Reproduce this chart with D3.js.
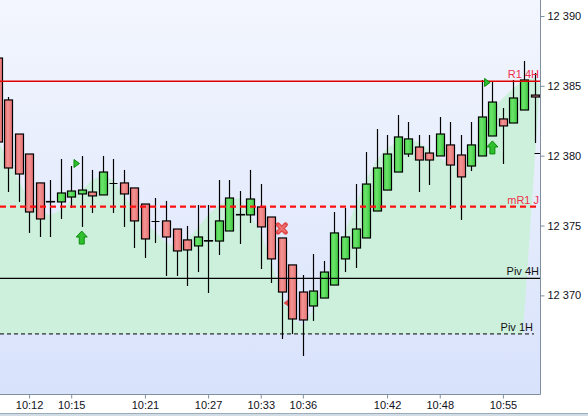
<!DOCTYPE html>
<html><head><meta charset="utf-8">
<script src="https://cdn.jsdelivr.net/npm/d3@7"></script>
<style>html,body{margin:0;padding:0;background:#fff;overflow:hidden}svg{display:block}</style>
</head><body><svg id="c" width="588" height="416"></svg>
<script>
// ---------- DATA ----------
const timeTickIndex  = [3, 7, 14, 20, 25, 29, 37, 42, 48];
const timeTickLabels = ["10:12","10:15","10:21","10:27","10:33","10:36","10:42","10:48","10:55"];
const priceTicks = [12370, 12375, 12380, 12385, 12390];

const opens  = [12386.99,12383.99,12381.55,12380.12,12378.05,12376.72,12376.69,12377.04,12377.26,12377.40,
                12377.19,12378.05,12378.05,12377.69,12376.54,12375.33,12375.33,12374.75,12373.97,12373.54,
                12373.92,12373.89,12374.61,12375.79,12375.76,12376.33,12375.61,12374.11,12372.18,12370.24,
                12369.24,12369.81,12370.74,12372.61,12373.39,12374.11,12376.04,12377.54,12378.83,12380.12,
                12380.62,12380.19,12379.98,12380.77,12380.05,12379.26,12379.98,12381.41,12382.63,12382.34,
                12383.27,12384.34];
const highs  = [12387.20,12384.20,12381.55,12380.12,12378.05,12378.26,12379.76,12379.26,12379.98,12378.98,
                12379.98,12379.76,12378.98,12377.69,12376.54,12376.97,12376.76,12374.75,12374.97,12376.47,
                12376.47,12378.26,12378.26,12377.47,12378.98,12377.97,12375.61,12374.11,12372.18,12371.46,
                12372.96,12372.46,12375.97,12376.26,12377.97,12380.26,12381.91,12381.48,12382.91,12382.41,
                12381.48,12381.48,12382.77,12382.41,12381.48,12382.41,12385.42,12385.28,12383.41,12385.42,
                12386.78,12385.92];
const lows   = [12379.50,12377.40,12376.69,12374.47,12374.18,12374.18,12375.47,12376.26,12374.90,12375.90,
                12377.19,12375.90,12374.90,12373.39,12372.68,12373.75,12371.39,12371.39,12370.67,12371.67,
                12370.17,12372.89,12374.61,12373.68,12375.18,12371.89,12370.89,12366.88,12367.24,12365.66,
                12368.17,12369.81,12370.74,12371.67,12371.96,12374.11,12376.04,12377.54,12378.83,12379.91,
                12377.40,12377.90,12379.98,12376.18,12375.40,12378.90,12379.98,12381.41,12379.41,12382.34,
                12383.27,12380.91];
const closes = [12380.98,12379.12,12378.69,12375.97,12375.47,12376.69,12377.33,12377.47,12377.54,12377.12,
                12378.83,12378.05,12377.26,12375.33,12374.04,12375.33,12374.18,12373.18,12373.25,12374.18,
                12373.89,12375.33,12376.97,12375.76,12376.90,12374.90,12372.61,12370.24,12368.31,12368.24,
                12370.31,12371.67,12374.47,12374.18,12374.75,12377.97,12379.12,12380.12,12381.34,12381.20,
                12379.69,12379.69,12381.55,12379.33,12378.48,12380.77,12382.77,12383.84,12382.13,12384.13,
                12385.42,12384.20];

// green cloud upper bound per candle
const cloudTop = [12381.12,12379.69,12378.26,12376.83,12375.97,12375.76,12376.11,12376.83,12377.54,12378.26,
                  12378.62,12378.26,12377.19,12376.11,12375.25,12374.54,12373.75,12373.46,12373.97,12374.82,
                  12375.76,12376.47,12376.83,12376.97,12375.76,12374.54,12372.39,12370.03,12368.38,12367.88,
                  12368.95,12370.74,12372.89,12374.54,12376.47,12378.26,12379.69,12380.55,12380.98,12381.12,
                  12380.98,12380.40,12379.84,12379.33,12379.12,12379.69,12381.84,12383.27,12384.13,12384.85,
                  12385.42,12385.56];
const cloudEdgeIndex = [51.52, 49.9];
const cloudEdgePrice = [12385.06, 12367.24];

const levelNames  = ["R1 4H", "mR1 J", "Piv 4H", "Piv 1H"];
const levelValues = [12385.33, 12376.35, 12371.22, 12367.24];

const signalIndex = [7.5, 8, 27, 27.5, 46.5, 47];
const signalPrice = [12379.44, 12374.14, 12374.79, 12369.46, 12385.24, 12380.59];
const signalType  = ["buyTri", "buyArrow", "sellX", "sellTri", "buyTri", "buyArrow"];

const lastPrice = 12380.19;

// ---------- LAYOUT ----------
const svg = d3.select("#c");
const plotR = 540, plotB = 394;
const n = opens.length;
const x = d3.scaleLinear().domain([0, n - 1]).range([-2.5, 534.5]);
const step = x(1) - x(0);
const bw = step * 0.78;
const y = d3.scaleLinear().domain([12362.94, 12391.145]).range([plotB, 0]);
const FONT = "'Liberation Sans', Arial, sans-serif";
const px = v => Math.round(v) + 0.5;

const defs = svg.append("defs");
const bg = defs.append("linearGradient").attr("id","bg").attr("x1",0).attr("y1",0).attr("x2",0).attr("y2",1);
bg.append("stop").attr("offset","0%").attr("stop-color","#f3f6fe");
bg.append("stop").attr("offset","100%").attr("stop-color","#d8e2fb");
const rg = defs.append("linearGradient").attr("id","rg").attr("x1",0).attr("y1",0).attr("x2",1).attr("y2",0);
rg.append("stop").attr("offset","0%").attr("stop-color","#e46666");
rg.append("stop").attr("offset","40%").attr("stop-color","#f39494");
rg.append("stop").attr("offset","100%").attr("stop-color","#e87272");
const gg = defs.append("linearGradient").attr("id","gg").attr("x1",0).attr("y1",0).attr("x2",1).attr("y2",0);
gg.append("stop").attr("offset","0%").attr("stop-color","#4ed44e");
gg.append("stop").attr("offset","40%").attr("stop-color","#6ae46a");
gg.append("stop").attr("offset","100%").attr("stop-color","#3dc83d");
defs.append("clipPath").attr("id","clip").append("rect").attr("x",0).attr("y",0).attr("width",plotR).attr("height",plotB);

svg.append("rect").attr("x",0).attr("y",0).attr("width",plotR).attr("height",plotB).attr("fill","url(#bg)");

const plot = svg.append("g").attr("clip-path","url(#clip)");

// cloud
const cloudPts = cloudTop.map((v,i)=>[i, v]);
cloudPts.unshift([-1, cloudTop[0] + 0.6]);
cloudPts.push([cloudEdgeIndex[0], cloudEdgePrice[0]]);
cloudPts.push([cloudEdgeIndex[1], cloudEdgePrice[1]]);
cloudPts.push([-1, levelValues[3]]);
plot.append("path")
  .attr("d", d3.line().x(d=>x(d[0])).y(d=>y(d[1]))(cloudPts) + "Z")
  .attr("fill", "#cdf0dd");

function signalPath(t){
  if (t==="buyTri") return "M-2.5,-4L3,0L-2.5,4Z";
  if (t==="sellTri") return "M3,-4.5L-3,0L3,4.5Z";
  if (t==="buyArrow") return "M0,-6.5L5.5,-0.5L2.5,-0.5L2.5,6.5L-2.5,6.5L-2.5,-0.5L-5.5,-0.5Z";
  return "";
}
const sig = signalIndex.map((d,i)=>({i:d, p:signalPrice[i], t:signalType[i]}));

plot.selectAll(".sigB").data(sig.filter(s=>s.t==="sellTri")).join("path")
  .attr("transform", s=>`translate(${x(s.i)},${y(s.p)})`)
  .attr("d", s=>signalPath(s.t))
  .attr("fill","#e04848").attr("stroke","#d03030").attr("stroke-width",0.6);

// candles
const candles = d3.range(n).map(i=>({i, o:opens[i], h:highs[i], l:lows[i], c:closes[i]}));
plot.selectAll(".wick").data(candles).join("line")
  .attr("x1", d=>px(x(d.i))).attr("x2", d=>px(x(d.i)))
  .attr("y1", d=>y(d.h)).attr("y2", d=>y(d.l))
  .attr("stroke","#000").attr("stroke-width",1.2);
plot.selectAll(".body").data(candles.filter(d=>d.o!==d.c)).join("rect")
  .attr("x", d=>px(x(d.i)) - Math.round(bw/2)).attr("width", Math.round(bw))
  .attr("y", d=>y(Math.max(d.o,d.c)))
  .attr("height", d=>Math.abs(y(d.o)-y(d.c)))
  .attr("fill", d=>d.c<d.o ? "url(#rg)" : "url(#gg)")
  .attr("stroke","#000").attr("stroke-width",1.2);
plot.selectAll(".doji").data(candles.filter(d=>d.o===d.c)).join("line")
  .attr("x1", d=>px(x(d.i))-Math.round(bw/2)).attr("x2", d=>px(x(d.i))+Math.round(bw/2))
  .attr("y1", d=>px(y(d.o))).attr("y2", d=>px(y(d.o)))
  .attr("stroke","#000").attr("stroke-width",1);

// levels
const levelStroke = ["#e00000","#ff1010","#000","#000"];
const levelWidth  = [1.3, 2.4, 1.1, 1];
const levelDash   = [null, "6,4", null, "4,3"];
const levelEnd    = [540, 540, 540, 534];
const levelText   = ["#f0304a","#f0304a","#111","#111"];
levelValues.forEach((v,k)=>{
  plot.append("line").attr("x1",0).attr("x2",levelEnd[k])
    .attr("y1",y(v)).attr("y2",y(v))
    .attr("stroke",levelStroke[k]).attr("stroke-width",levelWidth[k])
    .attr("stroke-dasharray",levelDash[k]);
});

// last price marker
plot.append("line").attr("x1",x(n-1)).attr("x2",plotR).attr("y1",px(y(lastPrice))).attr("y2",px(y(lastPrice)))
  .attr("stroke","#000").attr("stroke-width",1);

// signals on top
plot.selectAll(".sigT").data(sig.filter(s=>s.t!=="sellTri" && s.t!=="sellX")).join("path")
  .attr("transform", s=>`translate(${x(s.i)},${y(s.p)})`)
  .attr("d", s=>signalPath(s.t))
  .attr("fill","#2fbf2f").attr("stroke","#0b8a0b").attr("stroke-width",1);
sig.filter(s=>s.t==="sellX").forEach(s=>{
  const g = plot.append("g").attr("transform",`translate(${x(s.i)},${y(s.p)})`);
  g.append("path").attr("d","M-3.8,-3.8L3.8,3.8M-3.8,3.8L3.8,-3.8")
    .attr("stroke","#e04848").attr("stroke-width",4.6).attr("stroke-linecap","round");
  g.append("path").attr("d","M-3.2,-3.2L3.2,3.2M-3.2,3.2L3.2,-3.2")
    .attr("stroke","#ee7070").attr("stroke-width",2).attr("stroke-linecap","round");
});

// level labels
levelValues.forEach((v,k)=>{
  svg.append("text").attr("x",levelEnd[k]-1).attr("y",y(v)-3)
    .attr("text-anchor","end").attr("font-family",FONT).attr("font-size",11)
    .attr("fill",levelText[k]).text(levelNames[k]);
});

// borders
svg.append("line").attr("x1",plotR+0.5).attr("x2",plotR+0.5).attr("y1",0).attr("y2",plotB+0.5)
  .attr("stroke","#7f8fa0").attr("stroke-width",1);
svg.append("line").attr("x1",0).attr("x2",plotR+0.5).attr("y1",plotB+0.5).attr("y2",plotB+0.5)
  .attr("stroke","#7f8fa0").attr("stroke-width",1);

// axes
const loc = d3.formatLocale({decimal:",", thousands:" ", grouping:[3], currency:["",""]});
const fmt = loc.format(",d");
const yAxis = svg.append("g").attr("transform",`translate(${plotR+0.5},0)`)
  .call(d3.axisRight(y).tickValues(priceTicks).tickFormat(fmt).tickSize(4).tickPadding(3));
yAxis.select(".domain").remove();
yAxis.selectAll("line").attr("stroke","#7f8fa0");
yAxis.selectAll("text").attr("font-family",FONT).attr("font-size",11).attr("fill","#101020");

const xAxis = svg.append("g").attr("transform",`translate(0,${plotB+0.5})`)
  .call(d3.axisBottom(x).tickValues(timeTickIndex).tickFormat((d,i)=>timeTickLabels[i]).tickSize(4).tickPadding(3));
xAxis.select(".domain").remove();
xAxis.selectAll("line").attr("stroke","#7f8fa0");
xAxis.selectAll("text").attr("font-family",FONT).attr("font-size",11).attr("fill","#101020");

// bottom frame
svg.append("rect").attr("x",0).attr("y",413).attr("width",588).attr("height",3).attr("fill","#d2dce5");
svg.append("line").attr("x1",0).attr("x2",588).attr("y1",413.5).attr("y2",413.5).attr("stroke","#9aabba");
</script></body></html>
